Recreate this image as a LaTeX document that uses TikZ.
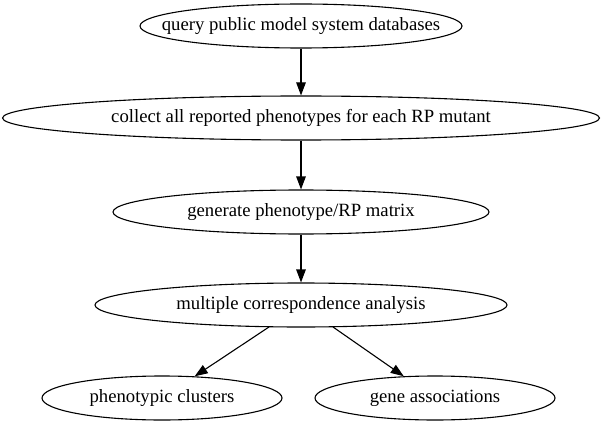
\documentclass[tikz,border=0pt]{standalone}
\usepackage{fontspec}
\setmainfont{Liberation Serif}
\usetikzlibrary{shapes.geometric,arrows.meta}
\begin{document}
\begin{tikzpicture}[x=1pt,y=-1pt,
  oval/.style={draw,ellipse,inner sep=0pt,minimum height=44pt,line width=1.1pt,
    label={[font=\fontsize{18.7pt}{21pt}\selectfont,inner sep=0pt]center:#1}},
  edge/.style={draw,line width=1.1pt,-{Triangle[length=13pt,width=9.5pt]}}]
\useasboundingbox (0,0) rectangle (602,425);
\node[oval={query public model system databases},minimum width=322pt] (a) at (301,26) {};
\node[oval={collect all reported phenotypes for each RP mutant},minimum width=597pt] (b) at (301,118) {};
\node[oval={generate phenotype/RP matrix},minimum width=376pt] (c) at (301,212) {};
\node[oval={multiple correspondence analysis},minimum width=412pt] (d) at (301,305) {};
\node[oval={phenotypic clusters},minimum width=240pt] (e) at (162,398) {};
\node[oval={gene associations},minimum width=240pt] (f) at (435,398) {};
\draw[edge] (a) -- (b);
\draw[edge] (b) -- (c);
\draw[edge] (c) -- (d);
\draw[edge] (269,327) -- (e);
\draw[edge] (333,327) -- (f);
\end{tikzpicture}
\end{document}
